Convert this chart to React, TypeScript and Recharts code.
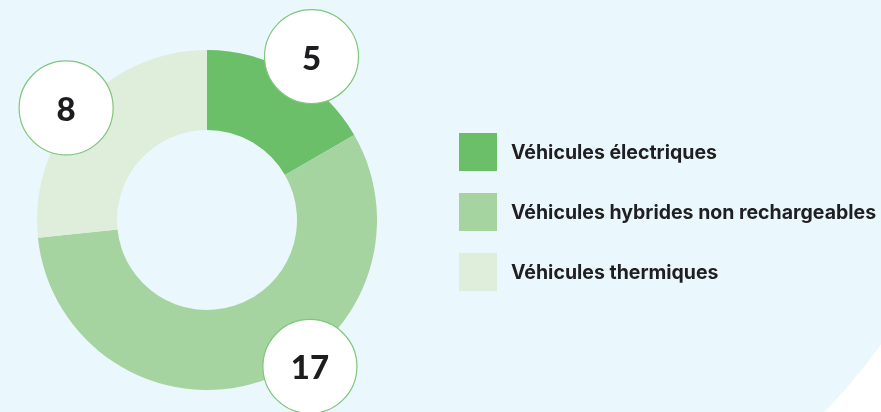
import { PieChart, Pie, Cell, Legend } from 'recharts';

// Répartition du parc de véhicules
const categories = [
  'Véhicules électriques',
  'Véhicules hybrides non rechargeables',
  'Véhicules thermiques',
];
const counts = [5, 17, 8];
const colors = ['#6bbf69', '#a6d4a0', '#deeedb'];

// label bubble placement tweaks (degrees relative to midAngle, distance from centre)
const labelShift = [-2.6, 17.1, 3.5];
const labelRadius = [194, 179, 180];

const data = categories.map((name, i) => ({ name, value: counts[i] }));

const RAD = Math.PI / 180;
const NUM_FONT = 'Lato, "Open Sans", sans-serif';
const TEXT_FONT = 'Inter, "Open Sans", sans-serif';

const renderBubble = (props: any) => {
  const { cx, cy, midAngle, index, value } = props;
  const angle = midAngle + labelShift[index];
  const r = labelRadius[index];
  const x = cx + Math.cos(-angle * RAD) * r;
  const y = cy + Math.sin(-angle * RAD) * r;
  return (
    <g key={`bubble-${index}`}>
      <circle cx={x} cy={y} r={47} fill="#ffffff" stroke="#7fc77c" strokeWidth={1.2} />
      <text
        x={x}
        y={y}
        textAnchor="middle"
        dominantBaseline="central"
        fill="#1d1d20"
        style={{ fontFamily: NUM_FONT, fontWeight: 900, fontSize: 33 }}
      >
        {value}
      </text>
    </g>
  );
};

// legend keeps the data order (recharts 3 would sort it otherwise)
const renderLegend = () => (
  <div>
    {categories.map((name, i) => (
      <div
        key={`leg-${i}`}
        style={{ display: 'flex', alignItems: 'center', height: 38, marginBottom: 22 }}
      >
        <div style={{ width: 38, height: 38, background: colors[i], marginRight: 14 }} />
        <span
          style={{
            fontFamily: TEXT_FONT,
            fontWeight: 700,
            fontSize: 19.5,
            color: '#1f1f22',
            whiteSpace: 'nowrap',
          }}
        >
          {name}
        </span>
      </div>
    ))}
  </div>
);

export default function App() {
  return (
    <div
      style={{
        position: 'fixed',
        left: 0,
        top: 0,
        width: 881,
        height: 412,
        overflow: 'hidden',
        background: 'radial-gradient(circle 592px at 400px 0px, #eaf7fc 99.8%, #ffffff 100%)',
      }}
    >
      <PieChart width={881} height={412} margin={{ top: 0, right: 0, bottom: 0, left: 0 }}>
        <Pie
          data={data}
          dataKey="value"
          nameKey="name"
          cx={207}
          cy={220}
          innerRadius={90}
          outerRadius={170}
          startAngle={90}
          endAngle={-270}
          stroke="none"
          label={renderBubble}
          labelLine={false}
          isAnimationActive={false}
        >
          {data.map((entry, i) => (
            <Cell key={`cell-${i}`} fill={colors[i]} />
          ))}
        </Pie>
        <Legend
          content={renderLegend}
          layout="vertical"
          wrapperStyle={{ position: 'absolute', left: 459, top: 133, width: 420 }}
        />
      </PieChart>
    </div>
  );
}
